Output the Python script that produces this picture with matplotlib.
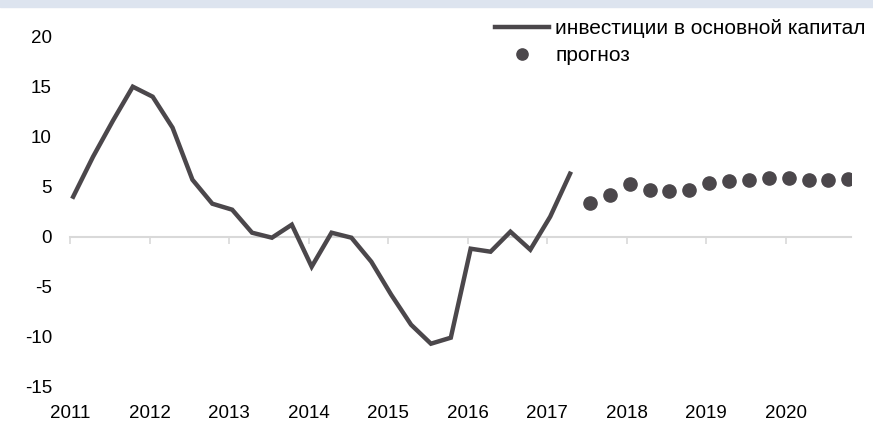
import matplotlib
matplotlib.use("Agg")
import matplotlib.pyplot as plt
from matplotlib.patches import Rectangle

plt.rcParams['font.family'] = ['Liberation Sans', 'DejaVu Sans']
plt.rcParams['axes.unicode_minus'] = False

# quarterly data, 2011Q1 ...
start_year = 2011
invest = [4.0, 8.0, 11.6, 15.0, 14.0, 10.9, 5.7, 3.3, 2.7, 0.4, -0.1, 1.2,
          -3.0, 0.4, -0.1, -2.5, -5.8, -8.8, -10.7, -10.1, -1.2, -1.5, 0.5,
          -1.3, 2.0, 6.3]
forecast = [3.4, 4.2, 5.3, 4.7, 4.6, 4.7, 5.4, 5.6, 5.7, 5.9, 5.9, 5.7, 5.7, 5.8]
years = list(range(2011, 2021))
yticks = [-15, -10, -5, 0, 5, 10, 15, 20]

x_inv = [start_year + 0.04 + 0.25 * i for i in range(len(invest))]
x_fc = [start_year + 0.04 + 0.25 * (len(invest) + i) for i in range(len(forecast))]

col = '#4b474b'
grid_col = '#d9d9d9'

fig = plt.figure(figsize=(8.73, 4.21), dpi=100)
fig.patches.append(Rectangle((0, 1 - 7 / 421), 1, 7 / 421, transform=fig.transFigure,
                             color='#dde4ef', zorder=0))
ax = fig.add_axes([70 / 873, 1 - 386.7 / 421, 781 / 873, 350 / 421])

ax.plot(x_inv, invest, color=col, lw=3.2, solid_joinstyle='miter',
        label='инвестиции в основной капитал')
ax.plot(x_fc, forecast, 'o', color=col, ms=9.5, label='прогноз')

ax.set_xlim(2011, 2011 + 781 / 79.5)
ax.set_ylim(-15, 20)
ax.set_yticks(yticks)
ax.set_xticks(years)
ax.set_xticklabels([str(y) for y in years])
ax.tick_params(axis='both', length=0, labelsize=13.5, colors='black')
ax.tick_params(axis='y', pad=13)
ax.tick_params(axis='x', pad=13.5)
for s in ax.spines.values():
    s.set_visible(False)

# zero line with year ticks
zero_pos = (0 - ax.get_ylim()[0]) / (ax.get_ylim()[1] - ax.get_ylim()[0])
sec = ax.secondary_xaxis(zero_pos)
sec.set_xticks(years)
sec.tick_params(axis='x', direction='out', length=5, width=1.2, color=grid_col,
                labelbottom=False, labeltop=False)
sec.spines['bottom'].set_color(grid_col)
sec.spines['bottom'].set_linewidth(1.5)
sec.xaxis.set_ticks_position('bottom')
sec.set_xticklabels([])

ax.legend(loc='upper left', bbox_to_anchor=(495 / 873, 1 - 19.5 / 421),
          bbox_transform=fig.transFigure, frameon=False, fontsize=15,
          handlelength=2.6, handletextpad=0.3, labelspacing=0.35, borderpad=0,
          borderaxespad=0, markerscale=0.85)

fig.savefig('out.png', dpi=100)
